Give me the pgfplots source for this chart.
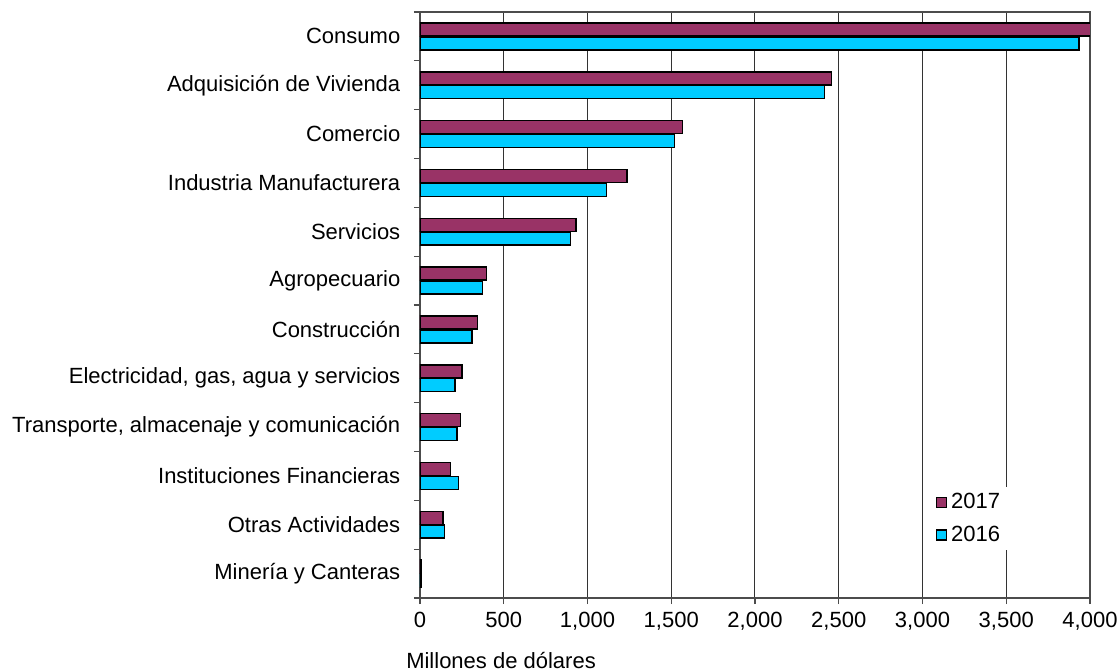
\documentclass[border=0pt]{standalone}
\usepackage{fontspec}
\setmainfont{Liberation Sans}
\usepackage{pgfplots}
\pgfplotsset{compat=1.18}
\definecolor{c2017}{HTML}{993366}
\definecolor{c2016}{HTML}{00CCFF}
\begin{document}
\fontsize{11}{13}\selectfont
\begin{tikzpicture}[font=\fontsize{11}{13}\selectfont]
\useasboundingbox (-210pt,-36pt) rectangle (349.5pt,299pt);
\begin{axis}[
 at={(0,0)}, anchor=south west,
 scale only axis, width=335pt, height=293pt,
 xbar=0.4pt, bar width=6.5pt,
 xmin=0, xmax=4000,
 ymin=-0.5, ymax=11.5, y dir=reverse,
 xtick={0,500,...,4000},
 ytick={0,...,11},
 yticklabels={Consumo, Adquisición de Vivienda, Comercio, Industria Manufacturera, Servicios, Agropecuario, Construcción, {Electricidad, gas, agua y servicios}, {Transporte, almacenaje y comunicación}, Instituciones Financieras, Otras Actividades, Minería y Canteras},
 minor ytick={-0.5,0.5,...,11.5},
 major y tick style={draw=none},
 tick align=outside,
 major tick length=3pt, minor tick length=3pt,
 xtick pos=bottom, ytick pos=left,
 tick style={black!70, line width=0.6pt},
 axis line style={black!70, line width=0.6pt},
 xmajorgrids, grid style={black!80, line width=0.5pt},
 /pgf/number format/assume math mode=true,
 /pgf/number format/1000 sep={,},
 scaled x ticks=false,
 yticklabel style={xshift=-3pt, font=\fontsize{11}{13}\selectfont},
 xticklabel style={font=\fontsize{11}{13}\selectfont},
 xlabel={Millones de dólares},
 x label style={at={(axis description cs:-0.032,-0.106)}, anchor=west, font=\fontsize{11}{13}\selectfont},
 legend style={at={(axis description cs:0.757,0.19)}, anchor=north west, draw=none, fill=white, font=\fontsize{11}{13}\selectfont, row sep=3pt, inner xsep=4pt, inner ysep=1pt},
 legend cell align=left,
 reverse legend,
 legend image code/.code={\draw[#1, line width=0.75pt] (0pt,-2.5pt) rectangle (5pt,2.5pt);},
 clip=true,
]
\addplot[fill=c2016, draw=black, line width=0.75pt] coordinates {
(3933,0) (2416,1) (1520,2) (1112,3) (900,4) (374,5) (310,6) (210,7) (222,8) (230,9) (145,10) (5,11)};
\addplot[fill=c2017, draw=black, line width=0.75pt] coordinates {
(4010,0) (2456,1) (1568,2) (1235,3) (932,4) (397,5) (344,6) (250,7) (242,8) (183,9) (137,10) (5,11)};
\legend{2016,2017}
\end{axis}
\end{tikzpicture}
\end{document}
